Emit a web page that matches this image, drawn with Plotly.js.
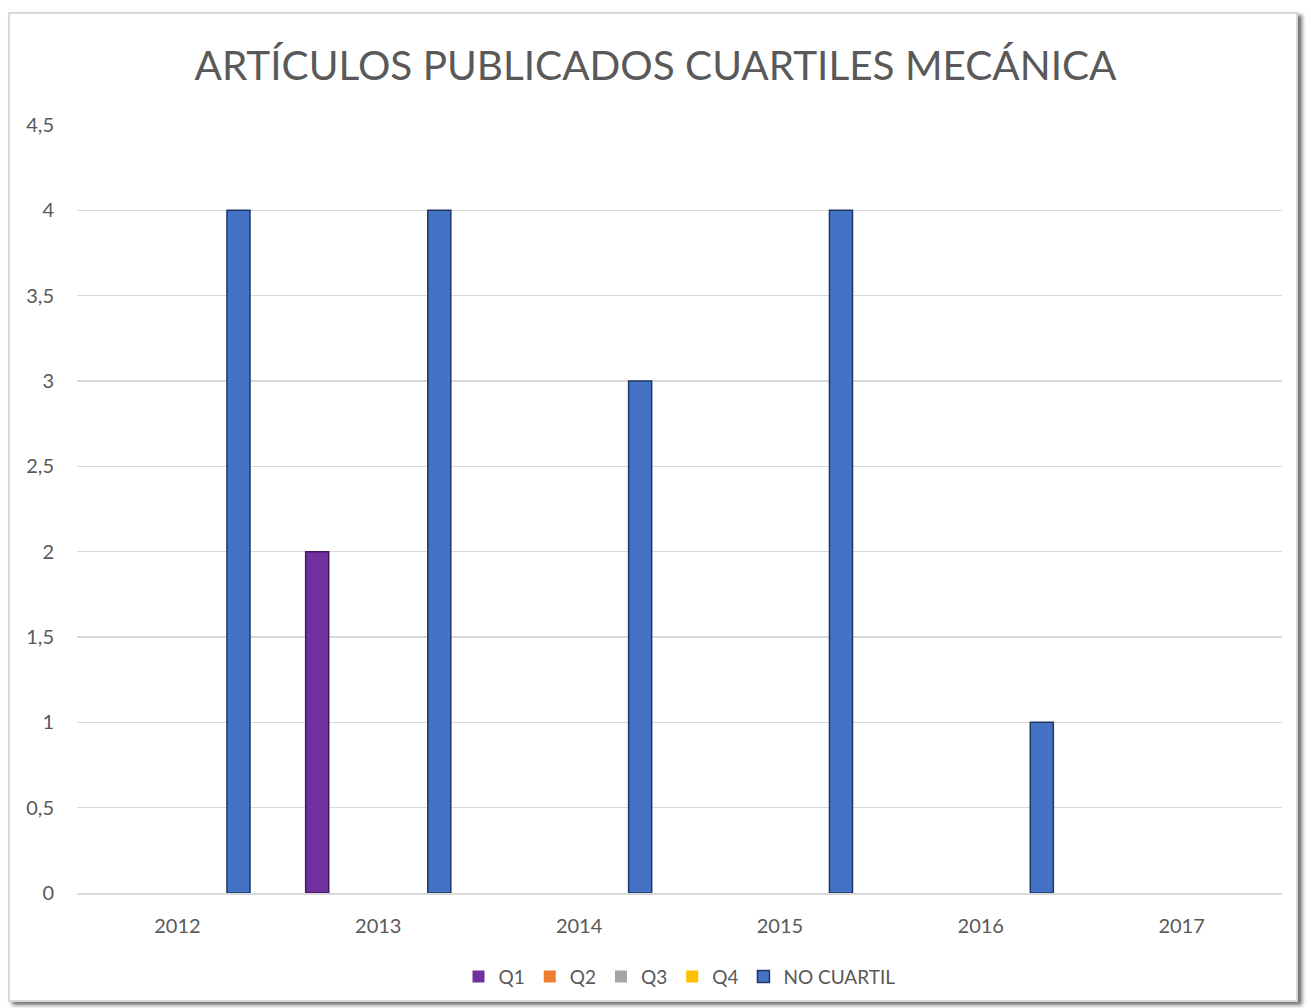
<!DOCTYPE html>
<html>
<head>
<meta charset="utf-8">
<script src="https://cdn.plot.ly/plotly-3.0.1.min.js"></script>
<style>
html,body{margin:0;padding:0;background:#fff;}
#wrap{position:relative;width:1311px;height:1008px;}
#frame{position:absolute;left:8px;top:12px;width:1290px;height:990px;border:2px solid #d9d9d9;box-shadow:4px 3px 4px #6e6e6e;box-sizing:border-box;pointer-events:none;z-index:2;}
#chart{position:absolute;left:0;top:0;width:1311px;height:1008px;}
</style>
</head>
<body>
<div id="wrap"><div id="chart"></div><div id="frame"></div></div>
<script>
const years = ['2012','2013','2014','2015','2016','2017'];
const q1 = [0, 2, 0, 0, 0, 0];
const q2 = [0, 0, 0, 0, 0, 0];
const q3 = [0, 0, 0, 0, 0, 0];
const q4 = [0, 0, 0, 0, 0, 0];
const noCuartil = [4, 4, 3, 4, 1, 0];
const seriesNames = ['Q1','Q2','Q3','Q4','NO CUARTIL'];
const seriesColors = ['#7030a0','#ed7d31','#a5a5a5','#ffc000','#4472c4'];
const seriesLines = ['#3f1a5c','#8a4519','#5e5e5e','#8c6a00','#1f3864'];
const seriesData = [q1,q2,q3,q4,noCuartil];

const FONT = 'Lato, "Open Sans", sans-serif';
const traces = seriesData.map((d,i)=>({
  type:'bar', x:years, y:d, name:seriesNames[i],
  marker:{color:seriesColors[i], line:{color:seriesLines[i], width:d.map(v=>v>0?1.5:0)}},
  hoverinfo:'skip'
}));

const layout = {
  width:1311, height:1008,
  margin:{l:77, r:29, t:125, b:115},
  paper_bgcolor:'#ffffff', plot_bgcolor:'#ffffff',
  separators:',.',
  title:{text:'ARTÍCULOS PUBLICADOS CUARTILES MECÁNICA', font:{family:FONT, size:40.5, color:'#595959'}, x:0.5, xanchor:'center', y:0.935, yanchor:'middle'},
  barmode:'group', bargap:0.24, bargroupgap:0.245,
  xaxis:{type:'category', showgrid:false, zeroline:false, showline:true, linecolor:'#d9d9d9', linewidth:1.5,
    ticks:'', ticklabelstandoff:14, tickfont:{family:FONT, size:20, color:'#595959'}},
  yaxis:{range:[0,4.5], dtick:0.5, tick0:0, showgrid:true, gridcolor:'#d9d9d9', gridwidth:1.5,
    zeroline:false, showline:false, ticks:'', ticklen:0, ticklabelstandoff:22, tickfont:{family:FONT, size:20, color:'#595959'}},
  legend:{orientation:'h', x:0.5, xanchor:'center', y:-0.109, yanchor:'middle',
    font:{family:FONT, size:19, color:'#595959'}, itemwidth:30, tracegroupgap:0},
  showlegend:true
};
Plotly.newPlot('chart', traces, layout, {displayModeBar:false, staticPlot:true});
</script>
</body>
</html>
